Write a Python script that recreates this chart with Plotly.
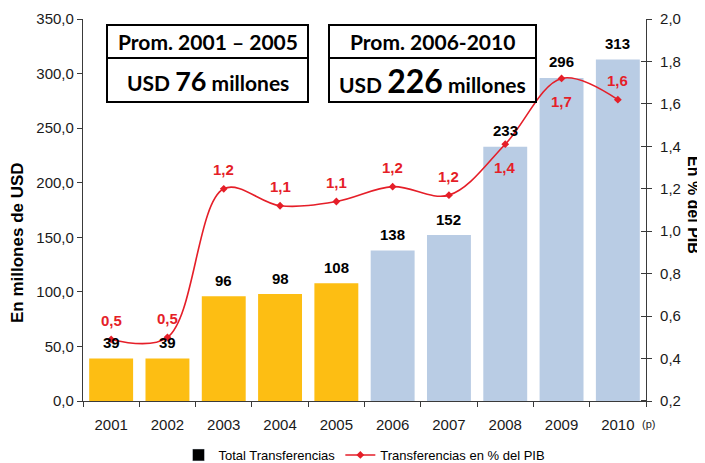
import plotly.graph_objects as go

# ---------------- data ----------------
years = ["2001", "2002", "2003", "2004", "2005", "2006", "2007", "2008", "2009", "2010"]
transfer_musd = [39, 39, 96, 98, 108, 138, 152, 233, 296, 313]
transfer_pct_gdp = [0.49, 0.50, 1.20, 1.12, 1.14, 1.21, 1.17, 1.41, 1.72, 1.62]
left_ticks = [0, 50, 100, 150, 200, 250, 300, 350]
right_ticks = [0.2, 0.4, 0.6, 0.8, 1.0, 1.2, 1.4, 1.6, 1.8, 2.0]
avg_2001_2005 = 76
avg_2006_2010 = 226
bar_series_name = "Total Transferencias"
line_series_name = "Transferencias en % del PIB"

# ---------------- styles ----------------
YELLOW = "#FDBE13"
BLUE = "#B9CCE4"
RED = "#E51E28"
AXIS = "#3a3a3a"
FONT = "Liberation Sans, Arial, sans-serif"
BOXFONT = "Lato, Open Sans, sans-serif"
bar_colors = [YELLOW] * 5 + [BLUE] * 5
below_label_years = {"2008", "2009"}

# window is 705x463; the html page body has an 8px margin
OFF = 8
WIN_W, WIN_H = 705, 463
W, H = WIN_W - OFF, WIN_H - OFF
# plot area in window pixels
L, R, T, B = 83, 646, 19, 401


def px(xp):
    return (xp - L) / (R - L)


def py(yp):
    return (B - yp) / (B - T)


fig = go.Figure()

fig.add_trace(go.Bar(
    x=years, y=transfer_musd, marker=dict(color=bar_colors, line=dict(width=0)),
    showlegend=False, name=bar_series_name, yaxis="y",
))
# legend entry for bars (black swatch as in the original); carries no visible bar
fig.add_trace(go.Bar(
    x=[years[0]], y=[None], name=bar_series_name, marker=dict(color="black"),
    showlegend=True, yaxis="y",
))
fig.add_trace(go.Scatter(
    x=years, y=transfer_pct_gdp, name=line_series_name, yaxis="y2",
    mode="lines+markers",
    line=dict(color=RED, width=1.6, shape="spline", smoothing=1.0),
    marker=dict(symbol="diamond", size=6, color=RED),
))

annotations = []
for i, v in enumerate(transfer_musd):
    annotations.append(dict(
        x=i, y=v, xref="x", yref="y", text=f"<b>{v}</b>", showarrow=False,
        xanchor="center", yanchor="middle",
        yshift=16, font=dict(family=FONT, size=15, color="black"),
    ))
for i, (yr, v) in enumerate(zip(years, transfer_pct_gdp)):
    below = yr in below_label_years
    annotations.append(dict(
        x=i, y=v, xref="x", yref="y2", text="<b>" + f"{v:.1f}".replace(".", ",") + "</b>",
        showarrow=False, xanchor="center", yanchor="middle",
        yshift=-23 if below else 19,
        font=dict(family=FONT, size=15, color=RED),
    ))
annotations.append(dict(
    x=len(years) - 1, y=py(424), xref="x", yref="paper", text="(p)", showarrow=False,
    xanchor="left", yanchor="middle", xshift=22,
    font=dict(family=FONT, size=11, color="#222222"),
))
annotations.append(dict(
    x=px(18), y=py(243), xref="paper", yref="paper", text="<b>En millones de USD</b>",
    textangle=-90, showarrow=False, xanchor="center", yanchor="middle",
    font=dict(family=FONT, size=17, color="black"),
))
annotations.append(dict(
    x=px(694), y=py(205), xref="paper", yref="paper", text="<b>En % del PIB</b>",
    textangle=90, showarrow=False, xanchor="center", yanchor="middle",
    font=dict(family=FONT, size=16, color="black"),
))
box_texts = [
    (207.5, 41.5, "<b>Prom. 2001 – 2005</b>"),
    (207.5, 80, f"<b>USD <span style='font-size:27px'>{avg_2001_2005}</span> millones</b>"),
    (432.5, 41.5, "<b>Prom. 2006-2010</b>"),
    (432.5, 80, f"<b>USD <span style='font-size:32px'>{avg_2006_2010}</span> millones</b>"),
]
for bx, by, txt in box_texts:
    annotations.append(dict(
        x=px(bx), y=py(by), xref="paper", yref="paper", text=txt, showarrow=False,
        xanchor="center", yanchor="middle",
        font=dict(family=BOXFONT, size=21, color="black"),
    ))

shapes = []
for x0, x1, y0, y1 in [(107, 308, 25, 102), (329, 536, 25, 102)]:
    shapes.append(dict(type="rect", xref="paper", yref="paper", x0=px(x0), x1=px(x1),
                       y0=py(y1), y1=py(y0), line=dict(color="black", width=2),
                       fillcolor="white", layer="above"))
    shapes.append(dict(type="line", xref="paper", yref="paper", x0=px(x0), x1=px(x1),
                       y0=py(58), y1=py(58), line=dict(color="black", width=2),
                       layer="above"))

fig.update_layout(
    width=W, height=H,
    margin=dict(l=L - OFF, r=WIN_W - R, t=T - OFF, b=WIN_H - B, pad=0, autoexpand=False),
    paper_bgcolor="white", plot_bgcolor="white",
    separators=",.",
    bargap=0.22,
    barmode="overlay",
    font=dict(family=FONT, size=15, color="#1a1a1a"),
    xaxis=dict(
        type="category", categoryorder="array", categoryarray=years,
        range=[-0.5, len(years) - 0.5], autorange=False,
        showline=True, linecolor=AXIS, linewidth=1.2,
        ticks="outside", tickson="boundaries", ticklen=5, tickcolor=AXIS,
        showgrid=False, tickfont=dict(size=15), ticklabelstandoff=10, tickangle=0,
    ),
    yaxis=dict(
        range=[0, 350], tickvals=left_ticks, tickformat=".1f",
        showline=True, linecolor=AXIS, linewidth=1.2,
        ticks="outside", ticklen=5, tickcolor=AXIS, showgrid=False, zeroline=False,
        tickfont=dict(size=15),
    ),
    yaxis2=dict(
        range=[0.2, 2.0], tickvals=right_ticks, tickformat=".1f",
        overlaying="y", side="right",
        showline=True, linecolor=AXIS, linewidth=1.2,
        ticks="outside", ticklen=5, tickcolor=AXIS, showgrid=False, zeroline=False,
        tickfont=dict(size=15), ticklabelstandoff=5,
        minor=dict(ticks="inside", ticklen=5, tickcolor=AXIS, tick0=0.2004, dtick=0.2, showgrid=False),
    ),
    legend=dict(
        orientation="h", x=0.5, xanchor="center", y=py(455), yanchor="middle",
        font=dict(size=13, color="black"), bgcolor="rgba(0,0,0,0)",
        traceorder="normal",
    ),
    annotations=annotations,
    shapes=shapes,
)

fig.write_html("out.html")
